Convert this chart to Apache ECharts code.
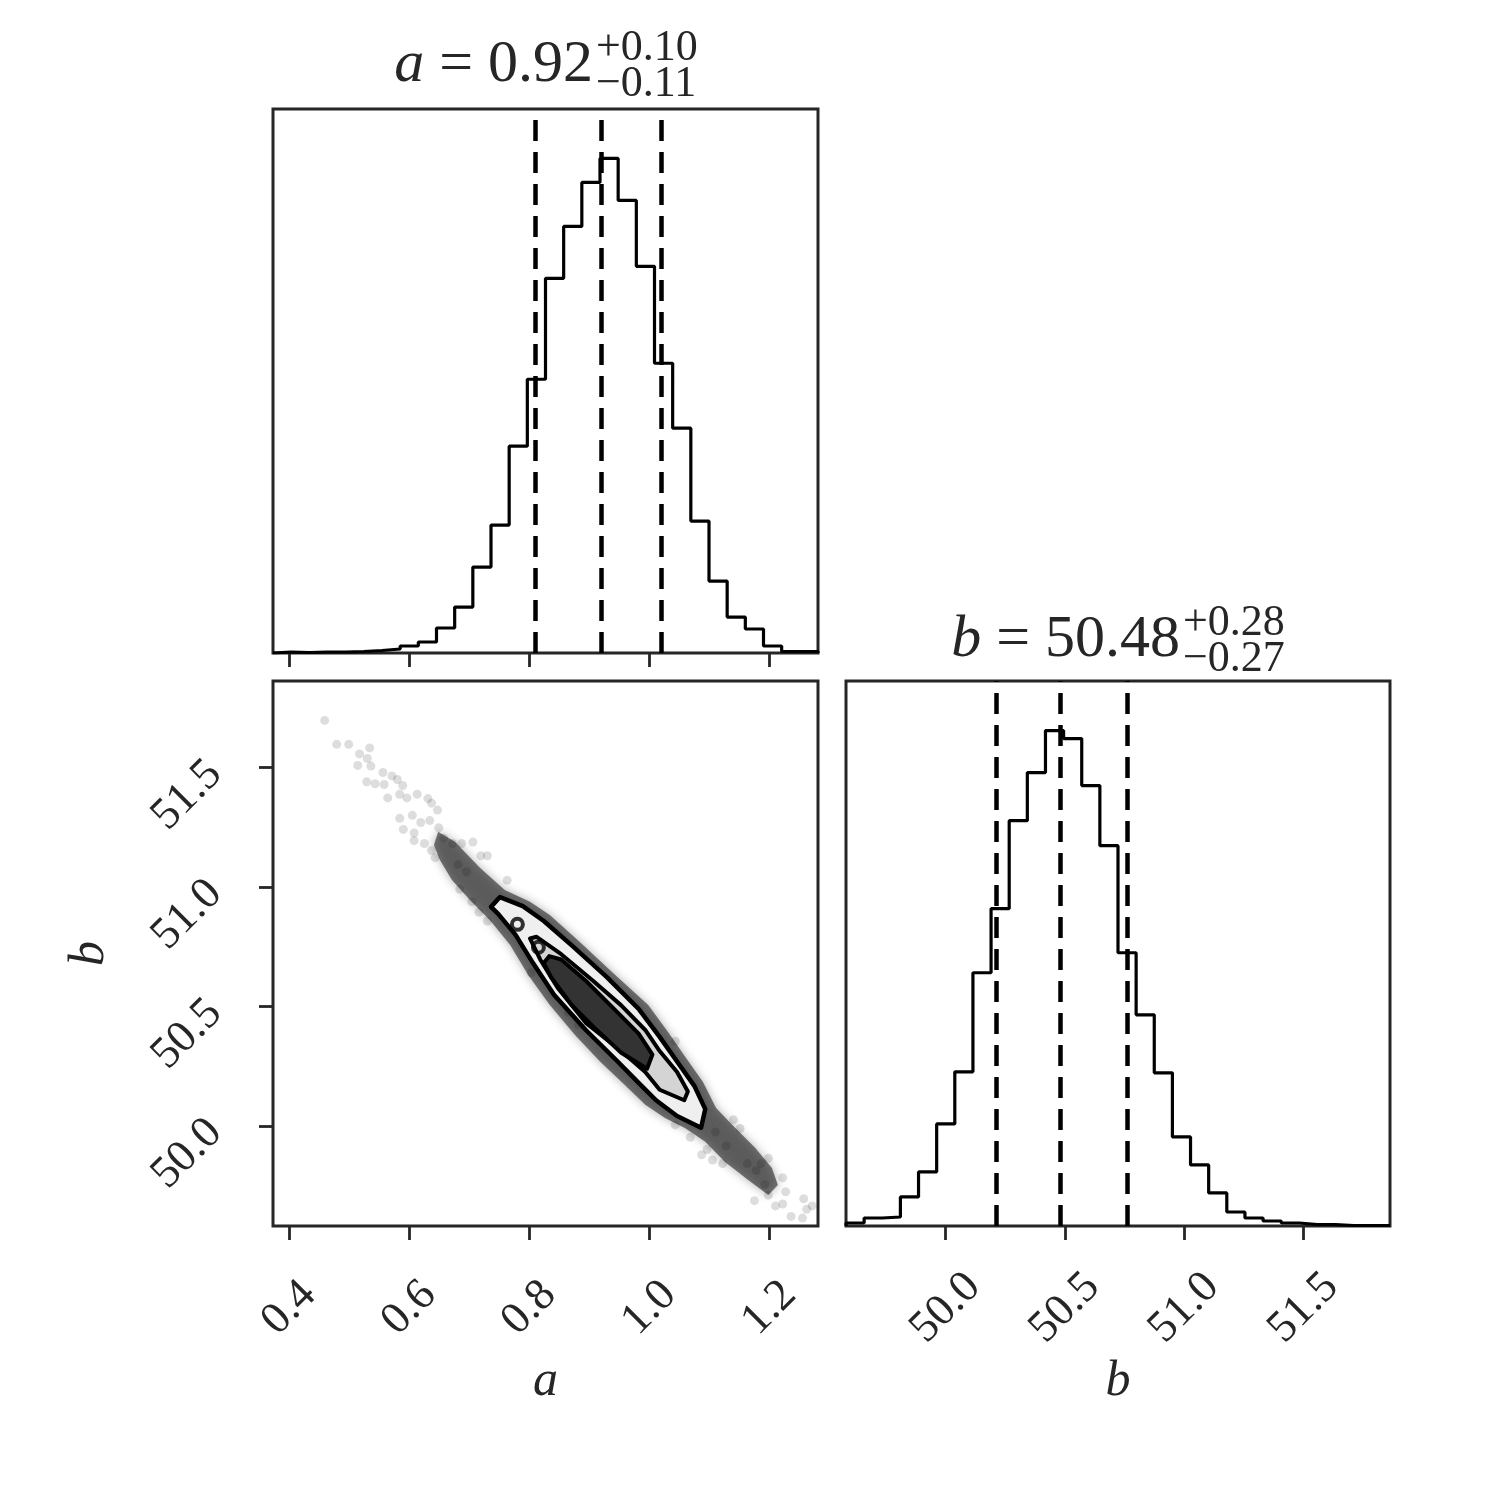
<!DOCTYPE html>
<html>
<head>
<meta charset="utf-8">
<script src="https://cdn.jsdelivr.net/npm/echarts@6/dist/echarts.min.js"></script>
<style>
html, body { margin: 0; padding: 0; background: #fff; }
#chart { width: 1500px; height: 1500px; }
</style>
</head>
<body>
<div id="chart"></div>
<script>
// axis ranges (from the sample min / max)
const aRange = [0.3729, 1.2808];
const bRange = [49.582, 51.862];

// 30-bin histograms
const aCounts = [1, 0.5, 1, 1, 1.5, 2.5, 4, 7, 11, 25, 46, 86, 128, 207, 274,
                 375, 427, 471, 495, 453, 387, 290, 225, 132, 72, 36, 24, 7, 1.5, 1.5];
const bCounts = [3, 8, 9, 29, 54, 102, 154, 253, 317, 405, 453, 495, 487, 440, 380,
                 273, 211, 153, 89, 61, 33, 14, 8, 5, 3, 1.5, 1.5, 0.5, 0.5, 0.5];

// 16 / 50 / 84 percent quantiles
const aQuantiles = [0.81, 0.92, 1.02];
const bQuantiles = [50.21, 50.48, 50.76];

const aTicks = [0.4, 0.6, 0.8, 1.0, 1.2];
const bTicks = [50.0, 50.5, 51.0, 51.5];

// single samples outside the dense cloud [a, b]
const samples = [
  [0.459,51.697],[0.479,51.597],[0.499,51.597],[0.517,51.557],[0.534,51.582],[0.530,51.538],
  [0.514,51.509],[0.536,51.506],[0.556,51.479],[0.571,51.465],[0.580,51.450],[0.529,51.440],
  [0.543,51.432],[0.558,51.429],[0.589,51.425],[0.564,51.373],[0.584,51.388],[0.596,51.373],
  [0.613,51.388],[0.631,51.370],[0.637,51.351],[0.647,51.322],[0.605,51.300],[0.584,51.288],
  [0.590,51.241],[0.608,51.226],[0.619,51.270],[0.634,51.278],[0.649,51.248],[0.657,51.204],
  [0.625,51.182],[0.608,51.194],[0.637,51.153],[0.643,51.123],[0.672,51.182],[0.687,51.182],
  [0.706,51.188],[0.719,51.131],[0.730,51.131],[0.681,51.094],[0.695,51.064],[0.684,50.991],
  [0.704,50.939],[0.763,51.028],[0.716,50.895],[0.730,50.858],
  [1.043,50.355],[1.029,50.299],[1.043,50.005],[1.068,49.953],[1.087,49.880],[1.105,49.858],
  [1.122,49.843],[1.140,50.027],[1.151,49.990],[1.175,49.688],[1.192,49.755],[1.198,49.711],
  [1.210,49.666],[1.222,49.784],[1.222,49.674],[1.236,49.622],[1.257,49.696],[1.262,49.652],
  [1.271,49.666],[1.255,49.615],[1.227,49.725],[1.186,49.843],[1.198,49.865],[1.163,49.843],
  [1.178,49.814],[1.128,49.917],[1.096,49.902],[1.110,49.975],[1.070,50.049],[0.882,50.424],
  [0.865,50.476],[0.803,50.641]
];

// outline of the dense (overlapping) part of the cloud
const cloudEdge = [
  [0.648,51.231],[0.676,51.189],[0.718,51.080],[0.759,50.988],[0.801,50.938],[0.834,50.883],
  [0.884,50.770],[0.943,50.632],[0.998,50.507],[1.031,50.394],[1.061,50.285],[1.089,50.185],
  [1.111,50.076],[1.143,49.992],[1.176,49.909],[1.204,49.825],[1.214,49.754],[1.198,49.712],
  [1.164,49.775],[1.126,49.850],[1.093,49.934],[1.059,49.992],[1.026,50.034],[0.993,50.089],
  [0.959,50.172],[0.918,50.269],[0.876,50.381],[0.834,50.507],[0.798,50.632],[0.768,50.758],
  [0.734,50.862],[0.701,50.946],[0.671,51.030],[0.651,51.113],[0.641,51.176]
];

// density contours
const contourOuter = [
  [0.736,50.917],[0.751,50.958],[0.789,50.920],[0.824,50.858],[0.871,50.755],[0.929,50.623],
  [0.982,50.490],[1.017,50.373],[1.046,50.270],[1.075,50.167],[1.093,50.071],[1.086,49.993],
  [1.046,50.042],[1.011,50.108],[0.982,50.181],[0.947,50.270],[0.894,50.402],[0.841,50.549],
  [0.806,50.682],[0.777,50.800],[0.748,50.888]
];
const contourMid = [
  [0.801,50.785],[0.812,50.792],[0.853,50.719],[0.906,50.608],[0.953,50.505],[0.993,50.402],
  [1.017,50.314],[1.046,50.226],[1.064,50.145],[1.058,50.108],[1.017,50.152],[0.993,50.226],
  [0.953,50.314],[0.894,50.432],[0.847,50.579],[0.818,50.697]
];
const contourInner = [
  [0.833,50.711],[0.853,50.697],[0.894,50.608],[0.941,50.490],[0.982,50.387],[1.005,50.299],
  [0.996,50.240],[0.953,50.307],[0.906,50.417],[0.871,50.505],[0.836,50.623],[0.824,50.682]
];
const smallLoops = [[0.780,50.844],[0.815,50.748]];

const FONT = 'Liberation Serif';
const INK = '#262626';

// step outline of a histogram
function stepData(range, counts) {
  const w = (range[1] - range[0]) / counts.length;
  const pts = [[range[0], 0]];
  counts.forEach((c, i) => pts.push([range[0] + i * w, c]));
  pts.push([range[1], counts[counts.length - 1]]);
  pts.push([range[1], 0]);
  return pts;
}

function polygon(pts, style, z) {
  return {
    type: 'custom', xAxisIndex: 1, yAxisIndex: 1, z: z, silent: true, clip: true,
    data: [[pts[0][0], pts[0][1]]],
    renderItem: (params, api) => ({
      type: 'polygon',
      shape: { points: pts.map(p => api.coord(p)) },
      style: style
    })
  };
}

const tick = (vals) => ({
  show: true, customValues: vals, length: 14, inside: false,
  lineStyle: { color: INK, width: 2.8 }
});
const tickLabel = (vals, extra) => Object.assign({
  show: true, customValues: vals, rotate: 45,
  formatter: v => Number(v).toFixed(1),
  fontFamily: FONT, fontSize: 45, color: INK
}, extra);

const quantileLines = (vals) => ({
  silent: true, symbol: ['none', 'none'], label: { show: false },
  lineStyle: { color: '#000', width: 4.5, type: [21, 11] },
  emphasis: { disabled: true },
  data: vals.map(v => ({ xAxis: v }))
});

const gridBox = { show: true, borderColor: INK, borderWidth: 3, backgroundColor: 'transparent' };

const option = {
  animation: false,
  textStyle: { fontFamily: FONT },
  grid: [
    Object.assign({ left: 273, top: 109, width: 545, height: 544 }, gridBox),
    Object.assign({ left: 273, top: 681, width: 545, height: 545 }, gridBox),
    Object.assign({ left: 846, top: 681, width: 544, height: 545 }, gridBox)
  ],
  xAxis: [
    { gridIndex: 0, type: 'value', min: aRange[0], max: aRange[1],
      axisLine: { show: false }, splitLine: { show: false },
      axisTick: tick(aTicks), axisLabel: { show: false } },
    { gridIndex: 1, type: 'value', min: aRange[0], max: aRange[1],
      axisLine: { show: false }, splitLine: { show: false },
      axisTick: tick(aTicks),
      axisLabel: tickLabel(aTicks, { align: 'center', verticalAlign: 'middle', margin: 82 }),
      name: 'a', nameLocation: 'middle', nameGap: 131,
      nameTextStyle: { fontFamily: FONT, fontStyle: 'italic', fontSize: 50, color: INK } },
    { gridIndex: 2, type: 'value', min: bRange[0], max: bRange[1],
      axisLine: { show: false }, splitLine: { show: false },
      axisTick: tick(bTicks),
      axisLabel: tickLabel(bTicks, { align: 'center', verticalAlign: 'middle', margin: 82 }),
      name: 'b', nameLocation: 'middle', nameGap: 131,
      nameTextStyle: { fontFamily: FONT, fontStyle: 'italic', fontSize: 50, color: INK } }
  ],
  yAxis: [
    { gridIndex: 0, type: 'value', min: 0, max: 1.1 * Math.max(...aCounts), show: false },
    { gridIndex: 1, type: 'value', min: bRange[0], max: bRange[1],
      axisLine: { show: false }, splitLine: { show: false },
      axisTick: tick(bTicks),
      axisLabel: tickLabel(bTicks, { align: 'right', verticalAlign: 'middle', margin: 58 }),
      name: 'b', nameLocation: 'middle', nameGap: 158,
      nameTextStyle: { fontFamily: FONT, fontStyle: 'italic', fontSize: 50, color: INK } },
    { gridIndex: 2, type: 'value', min: 0, max: 1.1 * Math.max(...bCounts), show: false }
  ],
  series: [
    { type: 'line', xAxisIndex: 0, yAxisIndex: 0, step: 'end', symbol: 'none',
      data: stepData(aRange, aCounts), lineStyle: { color: '#000', width: 3.2 },
      markLine: quantileLines(aQuantiles), silent: true },
    { type: 'line', xAxisIndex: 2, yAxisIndex: 2, step: 'end', symbol: 'none',
      data: stepData(bRange, bCounts), lineStyle: { color: '#000', width: 3.2 },
      markLine: quantileLines(bQuantiles), silent: true },

    polygon(cloudEdge, { fill: 'rgba(40,40,40,0.62)', shadowBlur: 10, shadowColor: 'rgba(40,40,40,0.6)' }, 1),
    { type: 'scatter', xAxisIndex: 1, yAxisIndex: 1, z: 2, silent: true,
      data: samples, symbolSize: 9, itemStyle: { color: 'rgba(0,0,0,0.17)' } },
    polygon(contourOuter, { fill: '#efefef', stroke: '#000', lineWidth: 4.5, lineJoin: 'round' }, 3),
    polygon(contourMid, { fill: '#d4d4d4', stroke: '#000', lineWidth: 4, lineJoin: 'round' }, 4),
    polygon(contourInner, { fill: '#333', stroke: '#000', lineWidth: 4, lineJoin: 'round' }, 5),
    { type: 'scatter', xAxisIndex: 1, yAxisIndex: 1, z: 6, silent: true,
      data: smallLoops, symbolSize: 11,
      itemStyle: { color: 'rgba(255,255,255,0)', borderColor: '#000', borderWidth: 4 } }
  ],
  graphic: [
    { type: 'text', x: 593, y: 65, silent: true,
      style: { text: '{i|a}{n| = 0.92}', align: 'right', verticalAlign: 'middle', fill: INK,
        rich: { i: { fontFamily: FONT, fontStyle: 'italic', fontSize: 60, fill: INK },
                n: { fontFamily: FONT, fontSize: 60, fill: INK } } } },
    { type: 'text', x: 596, y: 48, silent: true,
      style: { text: '+0.10', align: 'left', verticalAlign: 'middle', fill: INK, font: '44px "Liberation Serif"' } },
    { type: 'text', x: 596, y: 84, silent: true,
      style: { text: '\u22120.11', align: 'left', verticalAlign: 'middle', fill: INK, font: '44px "Liberation Serif"' } },
    { type: 'text', x: 1180, y: 640, silent: true,
      style: { text: '{i|b}{n| = 50.48}', align: 'right', verticalAlign: 'middle', fill: INK,
        rich: { i: { fontFamily: FONT, fontStyle: 'italic', fontSize: 60, fill: INK },
                n: { fontFamily: FONT, fontSize: 60, fill: INK } } } },
    { type: 'text', x: 1183, y: 623, silent: true,
      style: { text: '+0.28', align: 'left', verticalAlign: 'middle', fill: INK, font: '44px "Liberation Serif"' } },
    { type: 'text', x: 1183, y: 659, silent: true,
      style: { text: '\u22120.27', align: 'left', verticalAlign: 'middle', fill: INK, font: '44px "Liberation Serif"' } }
  ]
};

const chart = echarts.init(document.getElementById('chart'));
chart.setOption(option);
</script>
</body>
</html>
